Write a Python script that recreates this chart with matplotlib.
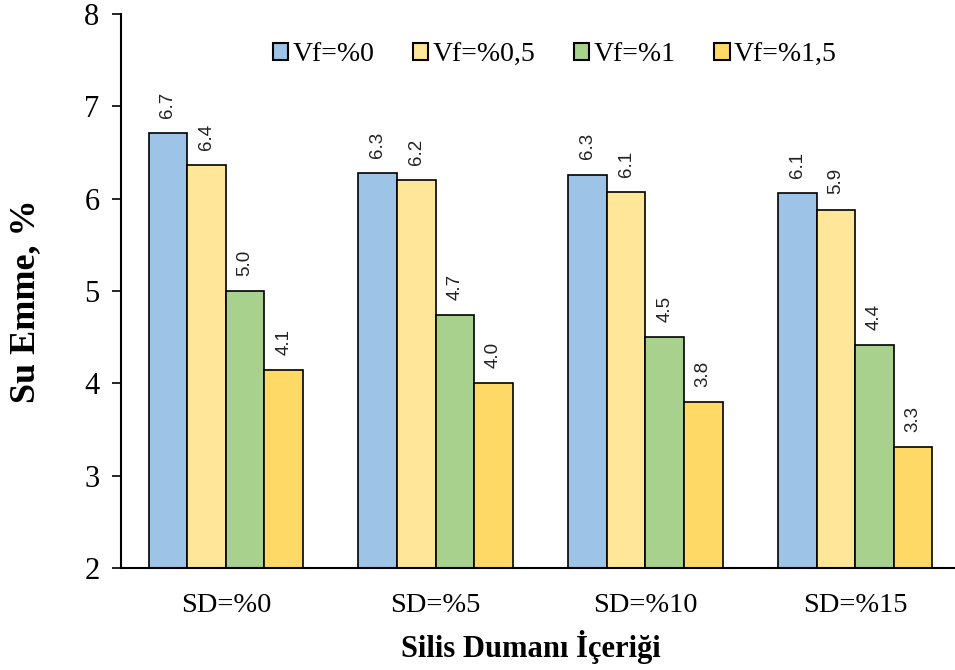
import numpy as np
import matplotlib
matplotlib.use("Agg")
import matplotlib.pyplot as plt

# data
groups = ["SD=%0", "SD=%5", "SD=%10", "SD=%15"]
series = ["Vf=%0", "Vf=%0,5", "Vf=%1", "Vf=%1,5"]
vf0 = [6.71, 6.28, 6.26, 6.06]
vf05 = [6.36, 6.20, 6.07, 5.88]
vf1 = [5.00, 4.74, 4.50, 4.41]
vf15 = [4.14, 4.00, 3.80, 3.31]
colors = ["#9DC3E6", "#FFE699", "#A9D18E", "#FFD966"]

serif = ["Liberation Serif", "DejaVu Serif"]
sans = ["Liberation Sans", "DejaVu Sans"]

fig = plt.figure(figsize=(9.55, 6.7), dpi=100)
ax = fig.add_axes([121 / 955, 102 / 670, 839 / 955, 554 / 670])

x = np.arange(len(groups))
width = 0.184
for i, (vals, name) in enumerate(zip([vf0, vf05, vf1, vf15], series)):
    pos = x + (i - 1.5) * width
    bars = ax.bar(pos, vals, width, color=colors[i], edgecolor="black",
                  linewidth=1.2, label=name, zorder=2)
    for b, v in zip(bars, vals):
        ax.annotate(f"{v:.1f}", (b.get_x() + b.get_width() / 2, v),
                    xytext=(0, 11), textcoords="offset points",
                    rotation=90, ha="center", va="bottom",
                    fontsize=13.5, family=sans, color="#222222")

ax.set_xlim(-0.5, 3.5)
ax.set_ylim(2, 8)
ax.set_yticks(range(2, 9))
ax.set_xticks(x)
ax.set_xticklabels(groups, fontsize=20.5, family=serif)
for t in ax.get_yticklabels():
    t.set_fontsize(22)
    t.set_family(serif)
ax.tick_params(axis="x", length=0, pad=18)
ax.tick_params(axis="y", length=6.5, width=1.2, direction="out", pad=9)

ax.spines["top"].set_visible(False)
ax.spines["right"].set_visible(False)
ax.spines["left"].set_linewidth(1.5)
ax.spines["bottom"].set_linewidth(1.5)

ax.set_ylabel("Su Emme, %", fontsize=26, fontweight="bold", family=serif)
ax.yaxis.set_label_coords(-0.094, 0.482)
ax.set_xlabel("Silis Dumanı İçeriği", fontsize=22, fontweight="bold", family=serif)
ax.xaxis.set_label_coords(0.489, -0.112)

leg = ax.legend(loc="center", bbox_to_anchor=(0.517, 0.926), ncol=4, frameon=False,
                prop={"family": serif, "size": 20}, handlelength=0.55, handleheight=0.55,
                handletextpad=0.15, columnspacing=1.4, borderpad=0)
for h in leg.legend_handles:
    h.set_linewidth(1.5)

fig.savefig("out.png", dpi=100)
